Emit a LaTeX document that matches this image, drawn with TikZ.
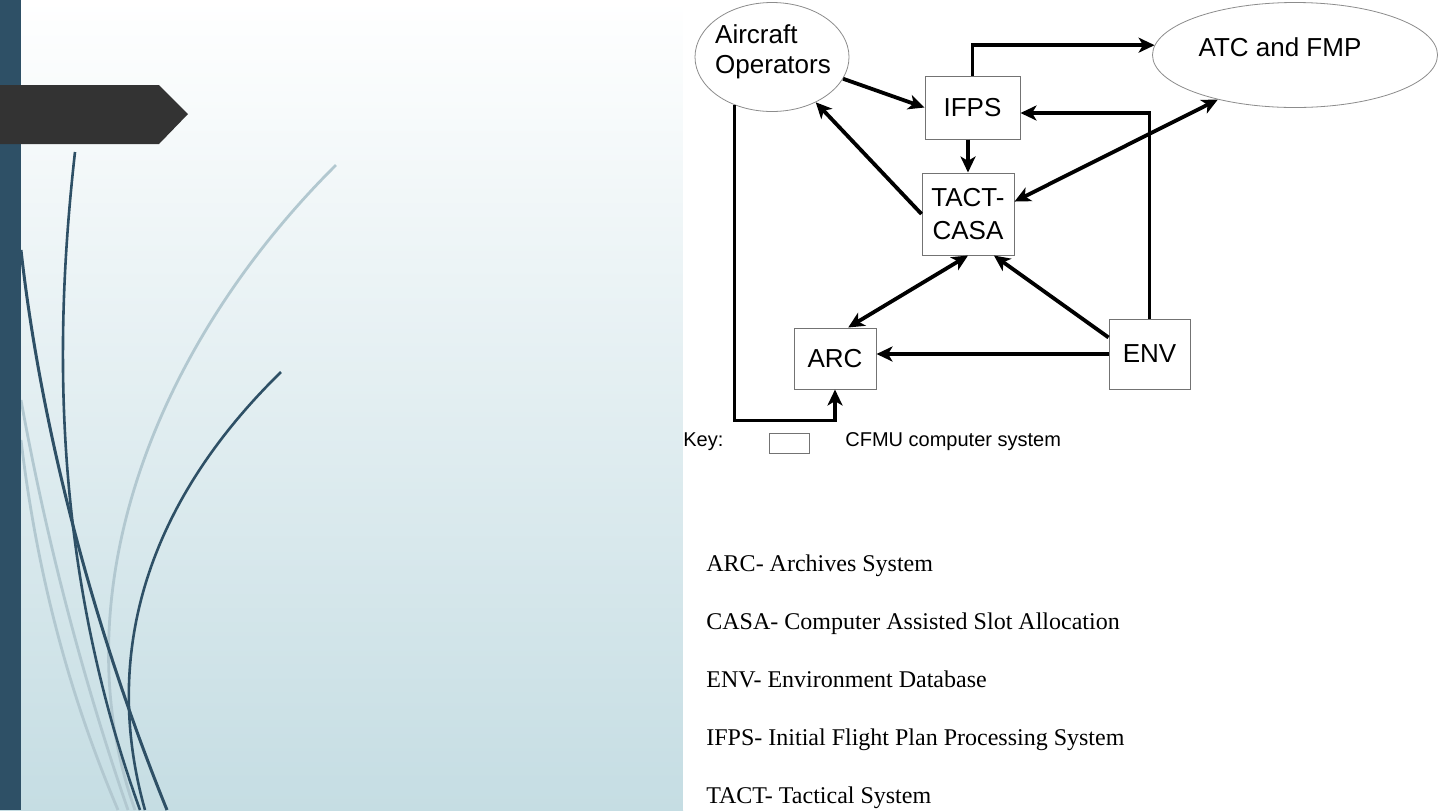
\documentclass[tikz,border=0pt]{standalone}
\usepackage{fontspec}
\setmainfont{Liberation Serif}
\newfontfamily\arialf{Liberation Sans}
\usetikzlibrary{arrows.meta,shapes.geometric,calc}
\definecolor{barblue}{RGB}{46,80,102}
\definecolor{bgblue}{RGB}{197,221,227}
\definecolor{tabgray}{RGB}{51,51,51}
\definecolor{lightcurve}{RGB}{178,200,208}
\begin{document}
\begin{tikzpicture}[x=0.5pt,y=-0.5pt,
  sysbox/.style={draw=black!55, line width=0.5pt, rectangle, inner sep=0pt, align=center,
    font=\arialf\fontsize{13}{16.5}\selectfont},
  extern/.style={draw=black!45, line width=0.4pt, ellipse, inner sep=0pt},
  difftext/.style={font=\arialf\fontsize{13}{15}\selectfont, inner sep=0pt, align=left},
  flow/.style={line width=1.9pt, -{Stealth[length=8pt,width=7.5pt,inset=2.2pt]}},
  biflow/.style={line width=1.9pt, {Stealth[length=8pt,width=7.5pt,inset=2.2pt]}-{Stealth[length=8pt,width=7.5pt,inset=2.2pt]}},
  legend/.style={anchor=base west, font=\fontsize{12}{14}\selectfont, inner sep=0pt},
  darkcurve/.style={draw=barblue, line width=1.3pt},
  lightline/.style={draw=lightcurve, line width=1.4pt}
]
\useasboundingbox (0,0) rectangle (1440,810);
% slide background
\shade[top color=white, bottom color=bgblue] (0,0) rectangle (683,810);
\fill[white] (683,0) rectangle (1440,810);
% decorative curves
\draw[lightline] (336,165) .. controls (150,350) and (60,600) .. (135,810);
\draw[lightline] (21,400) .. controls (50,560) and (90,700) .. (128,810);
\draw[lightline] (21,440) .. controls (40,600) and (80,720) .. (118,810);
\draw[darkcurve] (75,152) .. controls (55,330) and (50,560) .. (140,810);
\draw[darkcurve, line width=1.5pt] (21,250) .. controls (40,420) and (90,620) .. (167,810);
\draw[darkcurve] (281,372) .. controls (150,500) and (100,650) .. (145,810);
% left bar
\fill[barblue] (0,0) rectangle (21,810);
% tab
\fill[tabgray] (0,85) -- (159,85) -- (188,114) -- (159,144) -- (0,144) -- cycle;

% diagram nodes
\node[extern, minimum width=77pt, minimum height=54.5pt] (ao) at (772,57) {};
\node[difftext] (aolabel) at (773,52) {Aircraft\\Operators};
\node[extern, minimum width=142.5pt, minimum height=52.5pt] (atc) at (1295,55) {};
\node[difftext] (atclabel) at (1280,47) {ATC and FMP};
\node[sysbox, minimum width=47.5pt, minimum height=31.5pt] (ifps) at (972.5,107.5) {IFPS};
\node[sysbox, minimum width=46pt, minimum height=41pt] (tact) at (968,214) {TACT-\\CASA};
\node[sysbox, minimum width=41pt, minimum height=30.5pt] (arc) at (835,358.5) {ARC};
\node[sysbox, minimum width=40.5pt, minimum height=35pt] (env) at (1149.5,354) {ENV};

% connectors
\draw[flow] (ao.-17) -- (ifps.west);
\draw[flow] (tact.west) -- (ao.-46);
\draw[flow] (ifps.south -| tact.north) -- (tact.north);
\draw[flow] (ifps.north) |- (atc.176);
\draw[flow] (env.north) |- ([yshift=-2.75pt]ifps.east);
\draw[biflow] (atc.210) -- (tact.15);
\draw[biflow] (tact.south) -- (arc.67);
\draw[flow] (env.158) -- (tact.-58);
\draw[flow] (env.west) -- (env.west -| arc.east);
\draw[flow] (ao.-128) |- ([yshift=-15.5pt]arc.south) -- (arc.south);

% key
\node[anchor=west, font=\arialf\fontsize{10}{12}\selectfont, inner sep=0pt] (keylabel) at (683,442) {Key:};
\node[draw=black!55, line width=0.5pt, minimum width=20pt, minimum height=10pt, inner sep=0pt] (keybox) at (789,443) {};
\node[anchor=west, font=\arialf\fontsize{10}{12}\selectfont, inner sep=0pt] (keytext) at (845,442) {CFMU computer system};

% legend
\node[legend] (l1) at (706,571) {ARC- Archives System};
\node[legend] (l2) at (706,629) {CASA- Computer Assisted Slot Allocation};
\node[legend] (l3) at (706,687) {ENV- Environment Database};
\node[legend] (l4) at (706,745) {IFPS- Initial Flight Plan Processing System};
\node[legend] (l5) at (706,803) {TACT- Tactical System};
\end{tikzpicture}
\end{document}
